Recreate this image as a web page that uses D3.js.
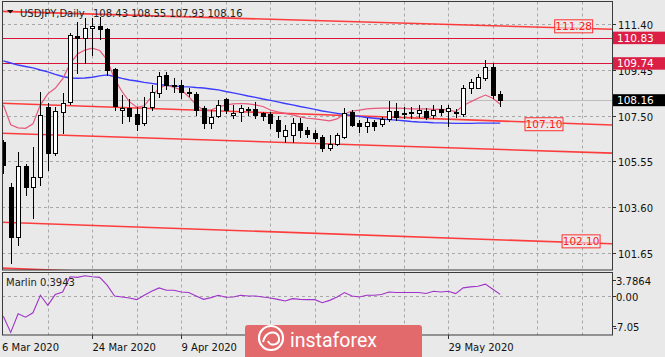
<!DOCTYPE html>
<html><head><meta charset="utf-8">
<script src="https://cdn.jsdelivr.net/npm/d3@7"></script>
<style>
html,body{margin:0;padding:0;background:#e9e9e9;}
svg{display:block;font-family:"DejaVu Sans",sans-serif;}
</style></head><body>
<svg id="c" width="665" height="357"></svg>
<script>
// ---------- DATA ----------
const symbolTitle = "USDJPY,Daily";
const lastOHLC = "108.43 108.55 107.93 108.16";
const dateLabels = ["6 Mar 2020","24 Mar 2020","9 Apr 2020","","","29 May 2020"];
const dateLabelIdx = [0,12,24,36,48,60];
const open  = [106.39,104.47,102.34,105.33,104.47,104.87,107.89,105.90,107.67,108.10,110.90,110.80,111.24,111.33,111.19,109.48,107.74,107.82,107.57,107.17,107.86,108.47,109.24,108.81,108.81,108.51,108.43,107.82,107.18,107.49,108.20,107.51,107.64,107.80,107.79,107.62,107.57,107.30,106.65,106.68,107.17,106.89,106.78,106.60,106.11,106.27,106.60,107.66,107.17,107.04,107.25,107.13,107.36,107.70,107.55,107.66,107.60,107.70,107.53,107.77,107.70,107.67,107.56,108.67,108.70,109.10,109.59,108.43];
const high  = [106.46,104.64,105.97,105.43,106.15,108.53,108.03,107.89,108.48,111.02,111.51,111.66,111.66,111.70,111.23,109.52,108.39,108.21,107.89,108.30,108.79,109.38,109.38,109.10,109.02,108.66,108.52,107.91,107.74,108.17,108.24,107.96,107.96,107.86,108.10,107.67,107.66,107.49,107.10,107.39,107.39,107.03,106.89,106.68,106.68,106.75,107.82,107.74,107.32,107.39,107.32,107.46,108.13,108.03,107.89,107.89,107.96,107.82,107.96,107.96,107.96,107.79,108.81,109.07,109.27,109.88,109.74,108.55];
const low   = [105.06,101.21,101.99,104.12,103.13,104.55,105.18,105.82,106.75,107.99,109.31,109.74,110.09,110.76,109.24,107.74,107.18,107.29,106.89,107.08,107.74,108.31,108.64,108.52,108.24,108.32,107.53,106.96,106.96,107.46,107.60,107.39,107.29,107.53,107.39,107.32,106.98,106.60,106.39,106.39,106.61,106.61,106.42,106.01,106.04,106.25,106.54,107.06,106.79,106.79,106.89,107.07,107.28,107.32,107.39,107.39,107.46,107.36,107.41,107.53,107.07,107.46,107.50,108.46,108.67,109.02,108.24,107.93];
const close = [105.40,102.34,105.33,104.47,104.87,107.53,105.90,107.70,108.05,110.94,110.80,111.23,111.33,111.19,109.45,107.91,107.81,107.49,107.15,107.87,108.50,109.19,108.81,108.77,108.51,108.48,107.74,107.18,107.46,107.94,107.74,107.62,107.81,107.75,107.52,107.47,107.19,106.85,106.89,107.18,106.89,106.72,106.54,106.10,106.28,106.68,107.62,107.12,107.04,107.25,107.04,107.35,107.70,107.46,107.63,107.60,107.74,107.46,107.74,107.65,107.81,107.60,108.70,108.93,109.17,109.59,108.38,108.16];
const maSlow = [109.84,109.75,109.66,109.60,109.54,109.45,109.37,109.26,109.17,109.11,109.10,109.11,109.14,109.20,109.24,109.17,109.09,109.02,108.98,108.92,108.88,108.83,108.79,108.77,108.74,108.73,108.70,108.68,108.64,108.60,108.53,108.47,108.41,108.34,108.28,108.21,108.15,108.09,108.02,107.96,107.89,107.83,107.77,107.70,107.65,107.60,107.55,107.51,107.47,107.42,107.39,107.36,107.33,107.31,107.28,107.25,107.23,107.22,107.20,107.19,107.18,107.17,107.17,107.17,107.18,107.18,107.18,107.18];
const maFast = [107.96,107.11,106.98,106.96,107.15,107.96,108.43,108.67,109.07,109.71,110.13,110.30,110.38,110.28,109.88,109.07,108.53,108.10,107.86,107.92,108.31,108.67,108.81,108.71,108.60,108.31,107.96,107.74,107.74,107.87,107.96,108.00,108.02,108.00,107.96,107.89,107.74,107.66,107.60,107.53,107.45,107.39,107.36,107.32,107.28,107.36,107.57,107.70,107.74,107.79,107.81,107.82,107.82,107.82,107.81,107.79,107.79,107.79,107.77,107.77,107.74,107.67,107.92,108.09,108.24,108.38,108.24,107.99];
const marlin = [-4.82,-8.67,-4.24,-5.06,-4.00,0.17,-2.24,0.34,0.96,4.58,4.43,4.82,4.58,4.43,2.58,0.00,-0.24,-0.48,-0.87,0.17,1.13,1.93,1.37,1.37,0.96,0.82,0.00,-0.80,-0.39,0.17,-0.31,-0.24,0.17,0.00,0.00,-0.24,-0.48,-0.80,-1.20,-0.63,-0.80,-0.87,-0.87,-1.59,-1.04,-0.24,0.82,0.00,-0.24,0.17,0.17,0.34,0.96,0.82,0.82,0.82,0.82,0.58,1.13,0.96,1.13,0.58,1.93,2.17,2.34,2.82,1.61,0.39];
const marlinLabel = "Marlin 0.3943";
const priceTicks = [111.40,109.45,107.50,105.55,103.60,101.65];
const marlinTicks = [3.7864,0.00,-7.05];
const marlinTickLabels = ["3.7864","0.00","-7.05"];
const hLevels = [110.83,109.74];
const lastPrice = 108.16;
// trend lines: [startIndex, startPrice, endIndex, endPrice]
const trendA = [-0.2,111.95,82.1,111.19];
const trendB = [-0.2,108.03,82.1,107.10];
const trendC = [-0.2,106.75,82.1,105.90];
const trendD = [-0.2,102.95,82.1,102.03];
const trendE = [-0.2,100.99,82.1,100.00];
const trendLabels = ["111.28","107.10","102.10"];
const trendLabelPrice = [111.28,107.10,102.10];
const trendLabelIdx = [76.9,72.9,77.9];

// ---------- LAYOUT ----------
const svg = d3.select("#c");
const L = 2, R = 612, T = 1.5, B = 270;
const PT = 272.5, PB = 335;
const x = d3.scaleLinear().domain([0, 82]).range([3.3, 3.3 + 82 * 7.417]);
const y = d3.scaleLinear().domain([101.65, 111.40]).range([252.7, 24.3]);
const yi = d3.scaleLinear().domain([-7.05, 3.7864]).range([325.6, 280.1]);

svg.append("rect").attr("width",665).attr("height",357).attr("fill","#e9e9e9");
const defs = svg.append("defs");
defs.append("clipPath").attr("id","clipMain").append("rect").attr("x",L).attr("y",T).attr("width",R-L).attr("height",B-T);
defs.append("clipPath").attr("id","clipInd").append("rect").attr("x",L).attr("y",PT).attr("width",R-L).attr("height",PB-PT);

const gridColor = "#a8a8a8";
const vIdx = d3.range(6, 82, 6);
const grid = svg.append("g");
vIdx.forEach(i=>{
  const xx = Math.round(x(i)) + 0.5;
  grid.append("line").attr("x1",xx).attr("x2",xx).attr("y1",T).attr("y2",B).attr("stroke",gridColor).attr("stroke-dasharray","3,3");
  grid.append("line").attr("x1",xx).attr("x2",xx).attr("y1",PT).attr("y2",PB).attr("stroke",gridColor).attr("stroke-dasharray","3,3");
});
priceTicks.forEach(p=>{
  const yy = Math.round(y(p)) + 0.5;
  grid.append("line").attr("x1",L).attr("x2",R).attr("y1",yy).attr("y2",yy).attr("stroke",gridColor).attr("stroke-dasharray","3,3");
});
{
  const yy = Math.round(yi(0)) + 0.5;
  grid.append("line").attr("x1",L).attr("x2",R).attr("y1",yy).attr("y2",yy).attr("stroke",gridColor).attr("stroke-dasharray","3,3");
}

const main = svg.append("g").attr("clip-path","url(#clipMain)");
main.append("line").attr("x1",L).attr("x2",R).attr("y1",Math.round(y(lastPrice))+0.5).attr("y2",Math.round(y(lastPrice))+0.5).attr("stroke","#bdbdbd");
hLevels.forEach(p=>{
  const yy = Math.round(y(p)) + 0.5;
  main.append("line").attr("x1",L).attr("x2",R).attr("y1",yy).attr("y2",yy).attr("stroke","#dc143c").attr("stroke-width",1);
});
[trendA,trendB,trendC,trendD,trendE].forEach(t=>{
  main.append("line").attr("x1",x(t[0])).attr("y1",y(t[1])).attr("x2",x(t[2])).attr("y2",y(t[3]))
    .attr("stroke","#ff2a2a").attr("stroke-width",1.6).attr("stroke-opacity",0.9);
});
const lineGen = d3.line().x((d,i)=>x(i)).y(d=>y(d));
main.append("path").datum(maSlow).attr("d",lineGen).attr("fill","none").attr("stroke","#3c3cff").attr("stroke-width",1.4);
main.append("path").datum(maFast).attr("d",lineGen).attr("fill","none").attr("stroke","#e8587a").attr("stroke-width",1.2);

const cg = main.append("g");
open.forEach((o,i)=>{
  const c = close[i];
  const n = Math.round(x(i));
  const xc = n + 0.5;
  cg.append("line").attr("x1",xc).attr("x2",xc).attr("y1",Math.round(y(high[i]))).attr("y2",Math.round(y(low[i]))+1).attr("stroke","#000");
  const yt = Math.round(y(Math.max(o,c))), yb = Math.round(y(Math.min(o,c)));
  const h = Math.max(yb - yt, 0);
  cg.append("rect").attr("x",n-1.5).attr("y",yt+0.5).attr("width",4).attr("height",h)
    .attr("fill", c < o ? "#000" : "#fff").attr("stroke","#000").attr("stroke-width",1);
});

trendLabels.forEach((t,k)=>{
  const cx = x(trendLabelIdx[k]), cy = y(trendLabelPrice[k]) - 0.8;
  svg.append("rect").attr("x",cx-19).attr("y",cy-6.5).attr("width",38).attr("height",13)
    .attr("fill","#ececec").attr("fill-opacity",0.6).attr("stroke","#ff3030").attr("stroke-width",1);
  svg.append("text").attr("x",cx).attr("y",cy+4).attr("text-anchor","middle").attr("font-size",10.5)
    .attr("fill","#ff1a1a").text(t);
});

svg.append("rect").attr("x",L+0.5).attr("y",T).attr("width",R-L).attr("height",B-T).attr("fill","none").attr("stroke","#3a3a3a");
svg.append("rect").attr("x",L+0.5).attr("y",PT).attr("width",R-L).attr("height",PB-PT).attr("fill","none").attr("stroke","#3a3a3a");

svg.append("path").attr("d","M7,10 L13.5,10 L10.25,13.5 Z").attr("fill","#111");
svg.append("text").attr("x",20).attr("y",16.5).attr("font-size",10).attr("fill","#222").text(symbolTitle);
svg.append("text").attr("x",93).attr("y",16.5).attr("font-size",10).attr("fill","#222").text(lastOHLC);

priceTicks.forEach(p=>{
  const yy = Math.round(y(p)) + 0.5;
  svg.append("line").attr("x1",R).attr("x2",R+4).attr("y1",yy).attr("y2",yy).attr("stroke","#333");
  if (Math.abs(p - 109.45) > 0.01)
    svg.append("text").attr("x",618).attr("y",yy+4).attr("font-size",10).attr("fill","#111").text(p.toFixed(2));
  else
    svg.append("text").attr("x",618).attr("y",yy+4.5).attr("font-size",10).attr("fill","#111").text(p.toFixed(2));
});
hLevels.forEach(p=>{
  const yy = y(p);
  svg.append("rect").attr("x",613).attr("y",yy-6).attr("width",52).attr("height",12.5).attr("fill","#dc1f45");
  svg.append("text").attr("x",617).attr("y",yy+4).attr("font-size",10.5).attr("fill","#fff").text(p.toFixed(2));
});
{
  const yy = y(lastPrice);
  svg.append("rect").attr("x",613).attr("y",yy-6).attr("width",52).attr("height",12).attr("fill","#000");
  svg.append("text").attr("x",617).attr("y",yy+4).attr("font-size",10.5).attr("fill","#fff").text(lastPrice.toFixed(2));
}

const ind = svg.append("g").attr("clip-path","url(#clipInd)");
ind.append("path").datum(marlin).attr("d",d3.line().x((d,i)=>x(i)).y(d=>yi(d)))
  .attr("fill","none").attr("stroke","#a033c8").attr("stroke-width",1.1);
svg.append("text").attr("x",6).attr("y",286).attr("font-size",10).attr("fill","#222").text(marlinLabel);
marlinTicks.forEach((v,k)=>{
  const yy = Math.round(yi(v)) + 0.5;
  svg.append("line").attr("x1",R).attr("x2",R+4).attr("y1",yy).attr("y2",yy).attr("stroke","#333");
  svg.append("text").attr("x", v < 0 ? 613.5 : 616).attr("y",yy+4).attr("font-size",10).attr("fill","#111").text(marlinTickLabels[k]);
});

dateLabelIdx.forEach((i,k)=>{
  const xx = Math.round(x(i)) + 0.5;
  if (i > 0) svg.append("line").attr("x1",xx).attr("x2",xx).attr("y1",PB).attr("y2",PB+4).attr("stroke","#333");
  if (dateLabels[k]) svg.append("text").attr("x", i === 0 ? 2 : xx).attr("y",351).attr("font-size",10).attr("fill","#111").text(dateLabels[k]);
});

const wm = svg.append("g");
wm.append("rect").attr("x",245).attr("y",325).attr("width",177).attr("height",36).attr("rx",3).attr("fill","#e36a6c");
wm.append("circle").attr("cx",271).attr("cy",338).attr("r",12).attr("fill","none").attr("stroke","#fff").attr("stroke-width",2.2);
wm.append("path").attr("d","M263,342 C266,330 278,330 279,338 C280,345 270,347 268,341").attr("fill","none").attr("stroke","#fff").attr("stroke-width",2);
wm.append("text").attr("x",290).attr("y",347).attr("font-family","Roboto, sans-serif").attr("font-size",19.5).attr("fill","#fff").text("instaforex");
</script>
</body></html>
